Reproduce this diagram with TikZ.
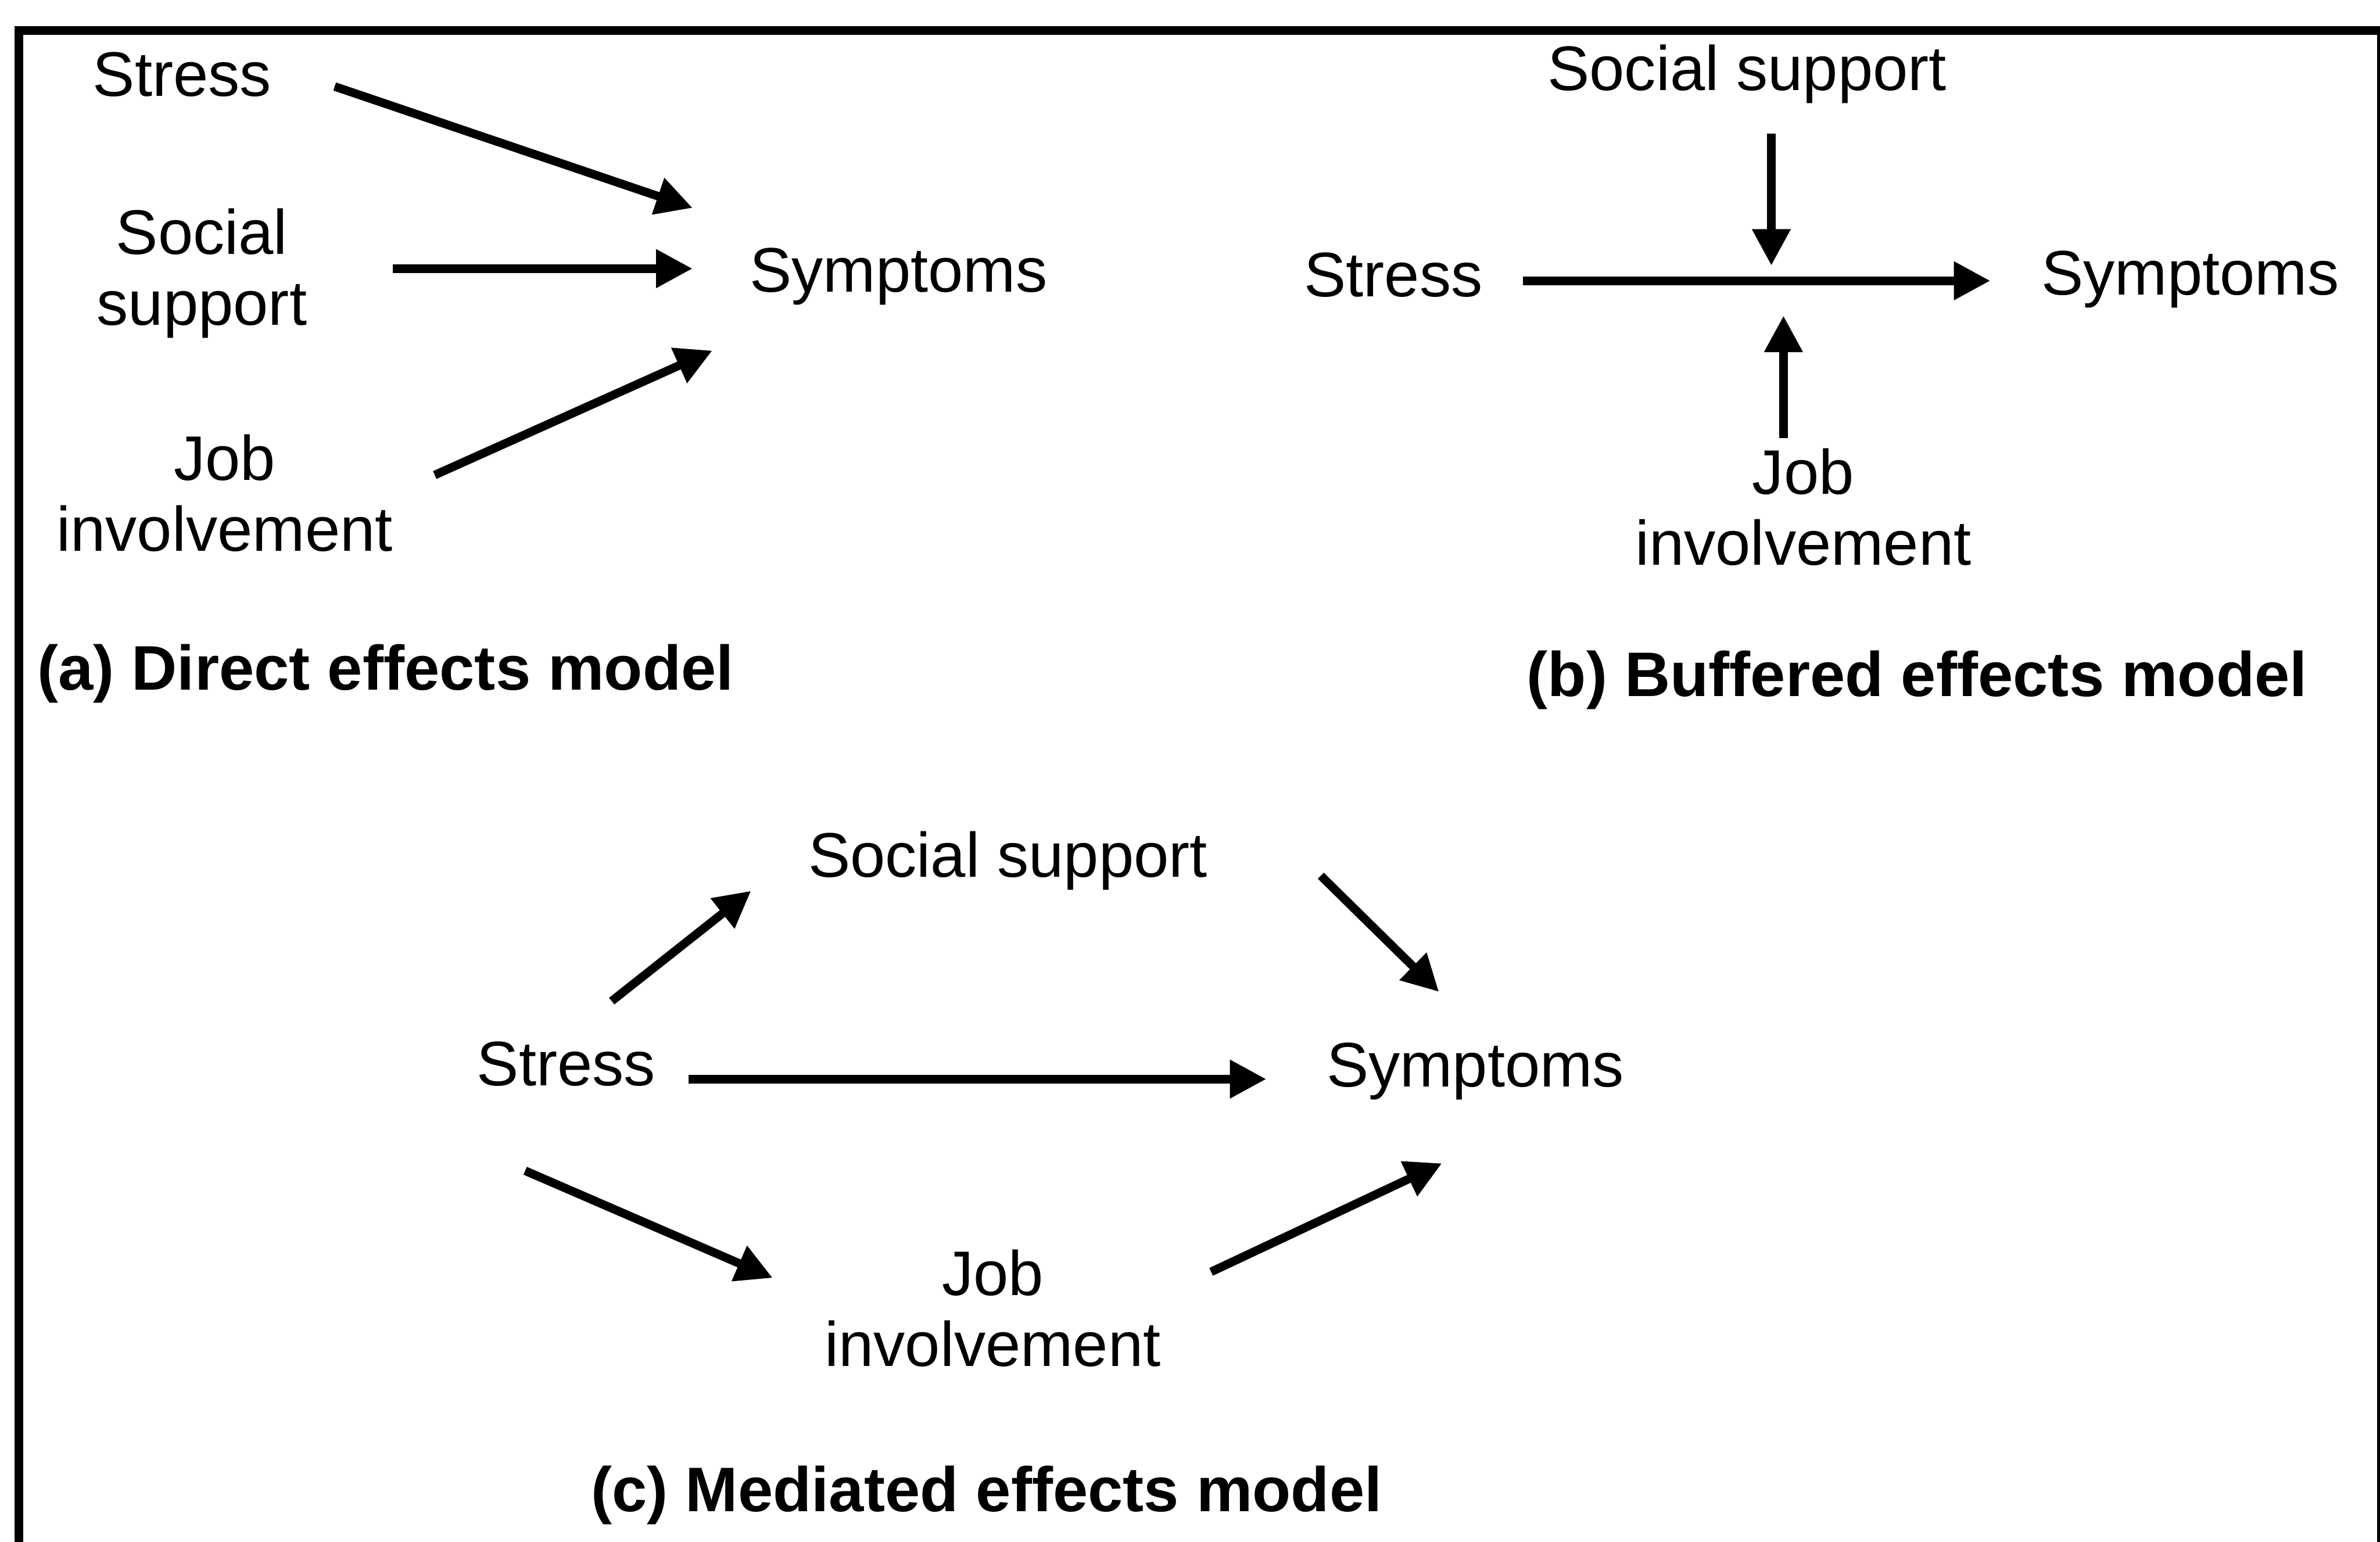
\documentclass[tikz,border=0pt]{standalone}
\usepackage{fontspec}
\setmainfont{Liberation Sans}
\usetikzlibrary{arrows.meta, calc}

\begin{document}
\begin{tikzpicture}[
    x=0.01cm, y=-0.01cm,
    % Styles for the variables, the model titles and the arrows
    var/.style={inner sep=0pt, align=center, font=\fontsize{11.8}{13.3}\selectfont},
    title/.style={inner sep=0pt, font=\fontsize{11.8}{14}\selectfont\bfseries},
    arrow/.style={line width=1.6pt, -{Triangle[length=0.24cm, width=0.24cm]}},
    frame/.style={line width=1.6pt}
]

    \useasboundingbox (0,0) rectangle (1568,1016);

    % Frame (open at the bottom)
    \draw[frame] (12.5,1016) -- (12.5,20) -- (1569,20) -- (1569,1016);


    % (a) Direct effects model

    %% Variables
    \node[var] (stressA) at (120,49) {Stress};
    \node[var] (supportA) at (133,180) {Social\\support};
    \node[var] (jobA) at (148,325) {Job\\involvement};
    \node[var] (symptomsA) at (592,182) {Symptoms};
    \node[title] (titleA) at (254,444) {(a) Direct effects model};

    %% Effects on symptoms
    \draw[arrow] ($(stressA.east) + (41,8)$) -- ($(symptomsA.west) + (-37,-45)$);
    \draw[arrow] ($(supportA.east) + (56,-3)$) -- ($(symptomsA.west) + (-37,-5)$);
    \draw[arrow] ($(jobA.east) + (27,-12)$) -- ($(symptomsA.west) + (-24,49)$);


    % (b) Buffered effects model

    %% Variables
    \node[var] (stressB) at (918,181) {Stress};
    \node[var] (symptomsB) at (1443,184) {Symptoms};
    \node[var] (supportB) at (1151,49) {Social support};
    \node[var] (jobB) at (1188,334) {Job\\involvement};
    \node[title] (titleB) at (1263,448) {(b) Buffered effects model};

    %% Where the buffers hit the main path
    \coordinate (hitTop) at (1167,175);
    \coordinate (hitBot) at (1175,208);

    %% Main path and buffers
    \draw[arrow] ($(stressB.east) + (26,4)$) -- ($(symptomsB.west) + (-33,1)$);
    \draw[arrow] ($(supportB.south) + (16,19)$) -- (hitTop);
    \draw[arrow] ($(jobB.north) + (-13,-6)$) -- (hitBot);


    % (c) Mediated effects model

    %% Variables
    \node[var] (stressC) at (373,701) {Stress};
    \node[var] (supportC) at (664,567) {Social support};
    \node[var] (symptomsC) at (972,706) {Symptoms};
    \node[var] (jobC) at (654,862) {Job\\involvement};
    \node[title] (titleC) at (650,985) {(c) Mediated effects model};

    %% Paths through the mediators
    \draw[arrow] ($(stressC.north) + (30,-26)$) -- ($(supportC.west) + (-37,20)$);
    \draw[arrow] ($(supportC.east) + (74,10)$) -- ($(symptomsC.north) + (-24,-33)$);
    \draw[arrow] ($(stressC.south) + (-27,55)$) -- ($(jobC.west) + (-33.5,-20)$);
    \draw[arrow] ($(jobC.east) + (32.5,-24)$) -- ($(symptomsC.south) + (-22,41)$);

    %% Direct path
    \draw[arrow] ($(stressC.east) + (21,10)$) -- ($(symptomsC.west) + (-39,5)$);

\end{tikzpicture}
\end{document}
